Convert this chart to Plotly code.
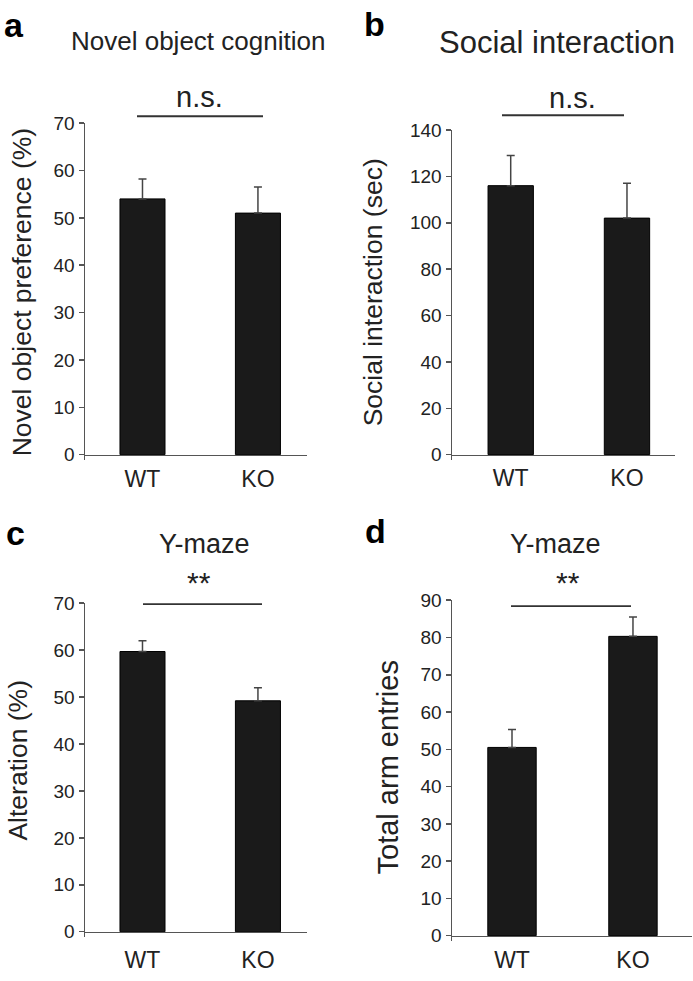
import plotly.graph_objects as go

groups = ["WT", "KO"]

# Panel a: Novel object cognition
novel_mean = [54.0, 51.0]
novel_err = [4.2, 5.5]
# Panel b: Social interaction
social_mean = [116.0, 102.0]
social_err = [13.0, 15.0]
# Panel c: Y-maze alteration
alter_mean = [59.7, 49.2]
alter_err = [2.3, 2.8]
# Panel d: Y-maze total arm entries
entries_mean = [50.5, 80.3]
entries_err = [4.8, 5.2]

W, H = 693, 981
FONT = "Liberation Sans, Arial, sans-serif"
AX = "#555555"
TXT = "#222222"
EXT = 5  # y-axis line extends below the zero line (px)

fig = go.Figure()

panels = [
    # (means, errs, xaxis, yaxis, x px domain, (top px, zero px), ymax, dtick, xrange, barwidth, label standoff)
    (novel_mean, novel_err, "x", "y", (85, 307), (115, 452), 70, 10, [-0.498, 1.425], 0.39, 3),
    (social_mean, social_err, "x2", "y2", (452, 675), (122, 452), 140, 20, [-0.505, 1.413], 0.39, 2),
    (alter_mean, alter_err, "x3", "y3", (85, 307), (603, 937), 70, 10, [-0.498, 1.425], 0.39, 7),
    (entries_mean, entries_err, "x4", "y4", (452, 692), (600, 941), 90, 10, [-0.496, 1.488], 0.40, 3),
]

for i, (m, e, xa, ya, xd, yd, ymax, dt, xr, bw, so) in enumerate(panels):
    fig.add_trace(go.Bar(
        x=groups, y=m, xaxis=xa, yaxis=ya, width=bw,
        marker=dict(color="#1a1a1a", line=dict(color="#000000", width=1)),
        error_y=dict(type="data", array=e, arrayminus=[0, 0], symmetric=False,
                     color="#444444", thickness=1.5, width=4),
        showlegend=False, hoverinfo="skip",
    ))
    n = "" if i == 0 else str(i + 1)
    top, zero = yd
    ymin = -ymax * EXT / (zero - top)
    fig.layout["xaxis" + n] = dict(
        domain=[xd[0] / W, xd[1] / W], anchor="free", position=1 - zero / H, range=xr,
        showline=True, linecolor=AX, linewidth=1.5, ticks="",
        showgrid=False, zeroline=False, fixedrange=True,
        tickfont=dict(family=FONT, size=23, color=TXT), ticklabelstandoff=so,
    )
    fig.layout["yaxis" + n] = dict(
        domain=[1 - (zero + EXT) / H, 1 - top / H], anchor=xa, range=[ymin, ymax],
        tickvals=list(range(0, ymax + 1, dt)),
        showline=True, linecolor=AX, linewidth=1.5, ticks="outside", ticklen=5,
        tickcolor=AX, tickwidth=1.5, showgrid=False, zeroline=False, fixedrange=True,
        tickfont=dict(family=FONT, size=19, color=TXT),
    )

annotations = []
def ann(text, x, y, size, bold=False, angle=0, color=TXT):
    annotations.append(dict(
        text=("<b>%s</b>" % text) if bold else text, x=x / W, y=1 - y / H,
        xref="paper", yref="paper", showarrow=False, textangle=angle,
        font=dict(family=FONT, size=size, color=color), xanchor="center", yanchor="middle",
    ))

# panel letters
ann("a", 14, 15, 34, bold=True, color="#000")
ann("b", 374, 14, 34, bold=True, color="#000")
ann("c", 15, 532, 34, bold=True, color="#000")
ann("d", 375, 530, 34, bold=True, color="#000")
# titles
ann("Novel object cognition", 198, 32, 26)
ann("Social interaction", 557, 33, 31)
ann("Y-maze", 204, 543, 27)
ann("Y-maze", 555, 543, 27)
# y-axis titles
ann("Novel object preference (%)", 22, 287, 26.5, angle=-90)
ann("Social interaction (sec)", 373, 287, 26.5, angle=-90)
ann("Alteration (%)", 18, 763, 26.5, angle=-90)
ann("Total arm entries", 388, 770, 29, angle=-90)
# significance labels
ann("n.s.", 200, 88, 29)
ann("n.s.", 572, 89, 29)
ann("**", 199, 582, 30)
ann("**", 568, 582, 30)

shapes = []
for x0, x1, y in [(137, 263, 108), (502, 624, 107), (143, 262, 604), (511, 631, 606)]:
    shapes.append(dict(type="line", xref="paper", yref="paper",
                       x0=x0 / W, x1=x1 / W, y0=1 - y / H, y1=1 - y / H,
                       line=dict(color="#333333", width=1.8)))

fig.update_layout(
    width=W, height=H, margin=dict(l=0, r=0, t=0, b=0),
    paper_bgcolor="white", plot_bgcolor="white",
    annotations=annotations, shapes=shapes, showlegend=False,
    font=dict(family=FONT), hovermode=False,
)

fig.write_html("out.html", config={"displayModeBar": False, "staticPlot": True},
               post_script="document.documentElement.style.margin='0';document.body.style.margin='0';document.body.style.overflow='hidden';")
